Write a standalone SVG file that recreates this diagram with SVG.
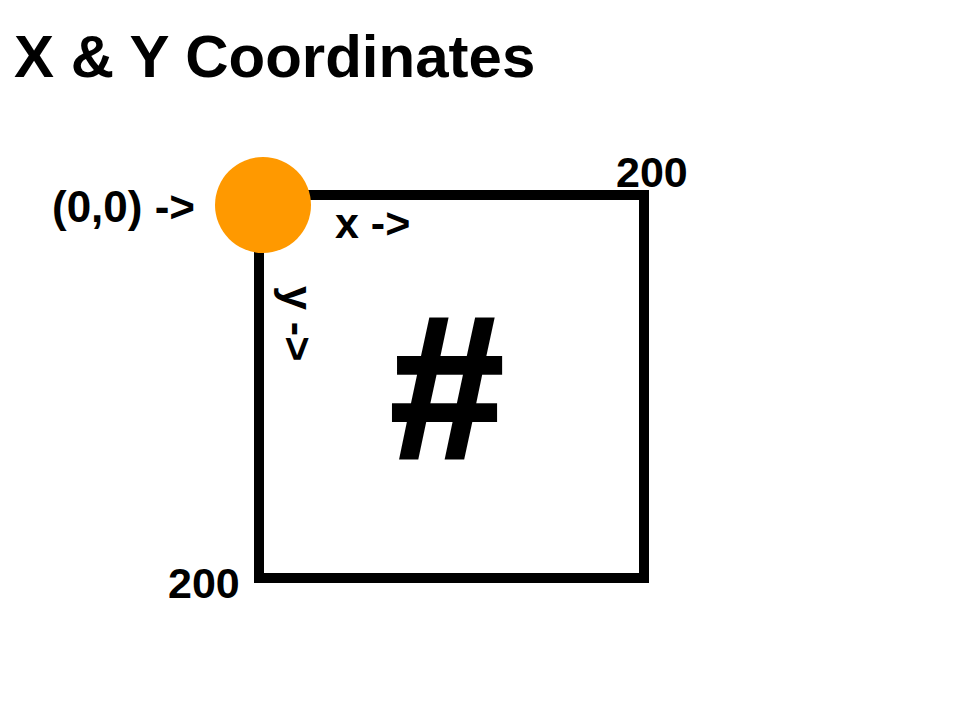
<svg xmlns="http://www.w3.org/2000/svg" width="960" height="720" viewBox="0 0 960 720">
<style>
text{font-family:"Liberation Sans",Arial,sans-serif;font-weight:bold;fill:#000}
.lbl{font-size:43px}
</style>
<rect width="960" height="720" fill="#fff"/>
<text x="14" y="77" style="font-size:60px">X &amp; Y Coordinates</text>
<g id="square">
<rect x="259" y="195" width="385" height="383" fill="none" stroke="#000" stroke-width="10"/>
</g>
<g id="origin">
<circle cx="263" cy="205" r="48" fill="#FF9900"/>
</g>
<text class="lbl" x="52" y="222" style="font-size:44px">(0,0) -&gt;</text>
<text class="lbl" x="335" y="238">x -&gt;</text>
<text class="lbl" transform="translate(283,286) rotate(90)">y -&gt;</text>
<text class="lbl" x="616" y="187">200</text>
<text class="lbl" x="168" y="598">200</text>
<text x="447" y="458" text-anchor="middle" stroke="#000" stroke-width="4" stroke-linejoin="miter" style="font-size:203px">#</text>
</svg>
